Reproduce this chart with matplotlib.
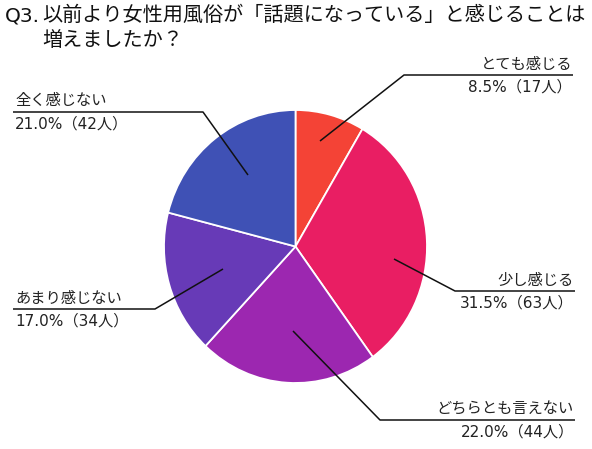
import matplotlib
matplotlib.use("Agg")
import matplotlib.pyplot as plt

plt.rcParams['font.family'] = ['DejaVu Sans', 'Noto Sans CJK JP']

categories = ["とても感じる", "少し感じる", "どちらとも言えない", "あまり感じない", "全く感じない"]
percents = [8.5, 31.5, 22.0, 17.0, 21.0]
counts = [17, 63, 44, 34, 42]
colors = ["#F44336", "#E91E63", "#9C27B0", "#673AB7", "#3F51B5"]
title_prefix = "Q3."
title_line1 = "以前より女性用風俗が「話題になっている」と感じることは"
title_line2 = "増えましたか？"

W, H = 592, 449
# pie bounding box in pixels (left, top, right, bottom), y downward
pie_box = (164, 110, 427, 383)
center_x = (pie_box[0] + pie_box[2]) / 2
leaders = [
    [(320, 141), (404, 75), (573, 75)],
    [(394, 259), (455, 291), (575, 291)],
    [(293, 331), (380, 420), (575, 420)],
    [(223, 269), (155, 309), (13, 309)],
    [(248, 175), (203, 112), (13, 112)],
]

fig = plt.figure(figsize=(W / 100, H / 100), dpi=100)
ax = fig.add_axes([0, 0, 1, 1])
ax.set_xlim(0, W)
ax.set_ylim(H, 0)
ax.axis('off')

pax = fig.add_axes([pie_box[0] / W, (H - pie_box[3]) / H,
                    (pie_box[2] - pie_box[0]) / W, (pie_box[3] - pie_box[1]) / H])
pax.pie(percents, colors=colors, radius=1, startangle=90, counterclock=False,
        wedgeprops=dict(edgecolor="white", linewidth=1.3))
pax.set_xlim(-1, 1)
pax.set_ylim(-1, 1)
pax.set_aspect('auto')
pax.axis('off')

for cat, p, c, pts in zip(categories, percents, counts, leaders):
    xs = [q[0] for q in pts]
    ys = [q[1] for q in pts]
    ax.plot(xs, ys, color="#111111", lw=1.1, solid_capstyle='butt', zorder=5)
    end_x, line_y = pts[-1]
    if end_x > center_x:
        tx, ha = end_x - 1, 'right'
    else:
        tx, ha = end_x + 2, 'left'
    ax.text(tx, line_y - 11, cat, ha=ha, va='center', fontsize=11, color="#222222",
            family=['Noto Sans CJK JP', 'DejaVu Sans'])
    ax.text(tx, line_y + 12.5, f"{p:.1f}%（{c}人）", ha=ha, va='center',
            fontsize=11, color="#222222")

# bring leader-line axes on top of pie
ax.set_zorder(2)
ax.patch.set_visible(False)

ax.text(5, 16, title_prefix, ha='left', va='center', fontsize=14.6, color="#111111")
ax.text(42, 15, title_line1, ha='left', va='center', fontsize=14.5, color="#111111",
        family=['Noto Sans CJK JP', 'DejaVu Sans'])
ax.text(42, 41, title_line2, ha='left', va='center', fontsize=14.5, color="#111111",
        family=['Noto Sans CJK JP', 'DejaVu Sans'])

fig.savefig("out.png", dpi=100)
